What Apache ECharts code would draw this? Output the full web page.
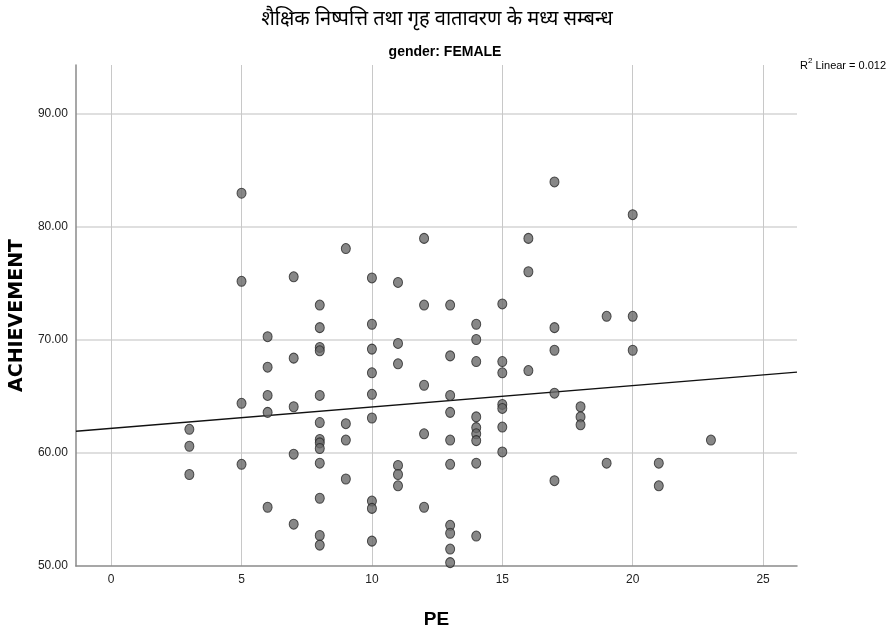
<!DOCTYPE html>
<html>
<head>
<meta charset="utf-8">
<script src="https://cdn.jsdelivr.net/npm/echarts@6/dist/echarts.min.js"></script>
<style>
html,body{margin:0;padding:0;background:#fff;}
#chart{width:890px;height:634px;}
</style>
</head>
<body>
<div id="chart"></div>
<script>
const titleText = 'शैक्षिक निष्पत्ति तथा गृह वातावरण के मध्य सम्बन्ध';
const subtitleText = 'gender: FEMALE';
const xAxisName = 'PE';
const yAxisName = 'ACHIEVEMENT';
const r2Text = '0.012';

const pe = [
  3,3,3,
  5,5,5,5,
  6,6,6,6,6,
  7,7,7,7,7,
  8,8,8,8,8,8,8,8,8,8,8,8,8,
  9,9,9,9,
  10,10,10,10,10,10,10,10,10,
  11,11,11,11,11,11,
  12,12,12,12,12,
  13,13,13,13,13,13,13,13,13,13,
  14,14,14,14,14,14,14,14,14,
  15,15,15,15,15,15,15,
  16,16,16,
  17,17,17,17,17,
  18,18,18,
  19,19,
  20,20,20,
  21,21,
  23
];
const achievement = [
  62.1,60.6,58.1,
  83.0,75.2,64.4,59.0,
  70.3,67.6,65.1,63.6,55.2,
  75.6,68.4,64.1,59.9,53.7,
  73.1,71.1,69.35,69.05,65.1,62.7,61.2,60.9,60.4,59.1,56.0,52.7,51.85,
  78.1,62.6,61.15,57.7,
  75.5,71.4,69.2,67.1,65.2,63.1,55.75,55.1,52.2,
  75.1,69.7,67.9,58.9,58.1,57.1,
  79.0,73.1,66.0,61.7,55.2,
  73.1,68.6,65.1,63.6,61.15,59.0,53.6,52.9,51.5,50.3,
  71.4,70.05,68.1,63.2,62.25,61.7,61.1,59.1,52.65,
  73.2,68.1,67.1,64.3,63.95,62.3,60.1,
  79.0,76.05,67.3,
  84.0,71.1,69.1,65.3,57.55,
  64.1,63.2,62.5,
  72.1,59.1,
  81.1,72.1,69.1,
  59.1,57.1,
  61.15
];
// fit line coefficients (SPSS linear fit)
const fitIntercept = 62.19;
const fitSlope = 0.189;
const xRange = [-1.35, 26.3];
const yRange = [50, 94.35];

const fitLine = xRange.map(x => [x, fitIntercept + fitSlope*x]);
const points = pe.map((x,i)=>[x, achievement[i]]);

const chart = echarts.init(document.getElementById('chart'), null, {renderer:'canvas'});
const narrow = '"Liberation Sans Narrow", "Arial Narrow", "Liberation Sans", Arial, sans-serif';
const plain = '"Liberation Sans", Arial, sans-serif';
chart.setOption({
  animation:false,
  backgroundColor:'#ffffff',
  title:[
    {text:titleText, left:432, top:4, textAlign:'center', textStyle:{fontSize:20, fontWeight:'normal', color:'#000', fontFamily:'"Noto Sans", sans-serif'}},
    {text:subtitleText, left:440, top:40, textAlign:'center', textStyle:{fontSize:14, fontWeight:'bold', color:'#000', fontFamily:narrow}},
    {text:'{r|R}{s|2}{r| Linear = '+r2Text+'}', left:795, top:52, textStyle:{fontWeight:'normal', rich:{r:{fontSize:11,fontWeight:'normal',color:'#000',fontFamily:plain,verticalAlign:'bottom'},s:{fontSize:8,fontWeight:'normal',color:'#000',fontFamily:plain,verticalAlign:'top',padding:[0,0,6,0]}}}}
  ],
  grid:{left:75, right:93, top:65, bottom:68, containLabel:false},
  xAxis:{
    type:'value', min:xRange[0], max:xRange[1],
    name:xAxisName, nameLocation:'middle', nameGap:44,
    nameTextStyle:{fontSize:19, fontWeight:'bold', color:'#000', fontFamily:narrow},
    axisLine:{show:true, onZero:false, lineStyle:{color:'#8a8a8a', width:1.5}},
    axisTick:{show:false},
    axisLabel:{showMinLabel:false, showMaxLabel:false, fontSize:12, color:'#222', margin:8, fontFamily:narrow},
    splitLine:{show:true, showMinLine:false, showMaxLine:false, lineStyle:{color:'#c8c8c8', width:1}}
  },
  yAxis:{
    type:'value', min:yRange[0], max:yRange[1], interval:10,
    name:yAxisName, nameLocation:'middle', nameGap:47, nameRotate:90,
    nameTextStyle:{fontSize:19, fontWeight:'bold', color:'#000', fontFamily:'"DejaVu Sans", sans-serif'},
    axisLine:{show:true, onZero:false, lineStyle:{color:'#8a8a8a', width:1.5}},
    axisTick:{show:false},
    axisLabel:{showMaxLabel:false, fontSize:12, color:'#222', margin:8, fontFamily:narrow, formatter:v=>v.toFixed(2)},
    splitLine:{show:true, showMinLine:false, showMaxLine:false, lineStyle:{color:'#d4d4d4', width:1.5}}
  },
  series:[
    {type:'line', data:fitLine, symbol:'none', silent:true, clip:true, lineStyle:{color:'#111', width:1.4}, z:3},
    {type:'scatter', data:points, symbol:'circle', symbolSize:[9,10], itemStyle:{color:'#696969', borderColor:'#262626', borderWidth:1}, z:4}
  ]
});
</script>
</body>
</html>
